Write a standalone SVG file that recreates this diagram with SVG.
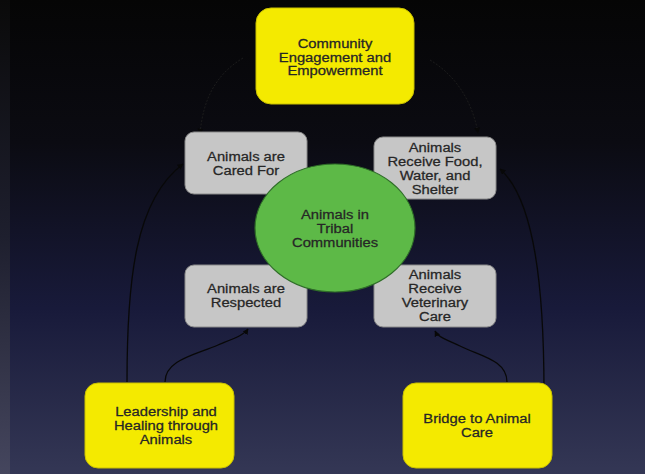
<svg xmlns="http://www.w3.org/2000/svg" width="645" height="474" viewBox="0 0 645 474">
<defs>
<linearGradient id="bg" x1="0" y1="0" x2="0" y2="1">
<stop offset="0" stop-color="#050505"/>
<stop offset="0.3" stop-color="#0b0b12"/>
<stop offset="0.65" stop-color="#181a3a"/>
<stop offset="1" stop-color="#343755"/>
</linearGradient>
<linearGradient id="strip" x1="0" y1="0" x2="0" y2="1">
<stop offset="0" stop-color="#0a0a0a"/>
<stop offset="0.5" stop-color="#1e1f2e"/>
<stop offset="1" stop-color="#45465e"/>
</linearGradient>
<marker id="ah" viewBox="0 0 10 10" refX="9" refY="5" markerWidth="6" markerHeight="6" orient="auto" markerUnits="userSpaceOnUse">
<path d="M0,0 L10,5 L0,10 z" fill="#080808"/>
</marker>
<style>
.y{fill:#f4ea00;stroke:#c9c000;stroke-width:1}
.g{fill:#c6c6c6;stroke:#8a8a8a;stroke-width:1}
.c{fill:#5db947;stroke:#2f6e28;stroke-width:1.2}
text{font-family:"Liberation Sans",Arial,sans-serif;font-size:12px;fill:#262626;text-anchor:middle;stroke:#262626;stroke-width:0.25}
.ln{fill:none;stroke:#080808;stroke-width:1.3;marker-end:url(#ah)}
.dl{fill:none;stroke:#1c1c1c;stroke-width:1;stroke-dasharray:2 1.5;marker-end:url(#ah)}
</style>
</defs>
<rect width="645" height="474" fill="url(#bg)"/>
<rect width="10" height="474" fill="url(#strip)"/>

<g id="connectors">
<path class="dl" d="M243,58 C215,75 203,100 200,134"/>
<path class="dl" d="M430,60 C455,75 472,100 478,133"/>
<path class="ln" d="M127,382 C127,280 135,200 183,164"/>
<path class="ln" d="M544,392 C544,290 535,200 500,169"/>
<path class="ln" d="M165,382 C165,360 195,355 218,345 C235,338 244,335 248,329"/>
<path class="ln" d="M507,382 C507,360 480,356 460,346 C445,339 438,337 435,331"/>
</g>

<g id="community">
<rect class="y" x="256" y="8" width="158" height="96" rx="15"/>
<text transform="translate(335,48) scale(1.23,1)">Community</text>
<text transform="translate(335,61.5) scale(1.23,1)">Engagement and</text>
<text transform="translate(335,75) scale(1.23,1)">Empowerment</text>
</g>

<g id="cared">
<rect class="g" x="185" y="132" width="122" height="62" rx="9"/>
<text transform="translate(246,161) scale(1.23,1)">Animals are</text>
<text transform="translate(246,175) scale(1.23,1)">Cared For</text>
</g>

<g id="food">
<rect class="g" x="374" y="137" width="122" height="62" rx="9"/>
<text transform="translate(435,152) scale(1.23,1)">Animals</text>
<text transform="translate(435,166) scale(1.23,1)">Receive Food,</text>
<text transform="translate(435,180) scale(1.23,1)">Water, and</text>
<text transform="translate(435,194) scale(1.23,1)">Shelter</text>
</g>

<g id="respected">
<rect class="g" x="185" y="265" width="122" height="62" rx="9"/>
<text transform="translate(246,293) scale(1.23,1)">Animals are</text>
<text transform="translate(246,307) scale(1.23,1)">Respected</text>
</g>

<g id="veterinary">
<rect class="g" x="374" y="265" width="122" height="62" rx="9"/>
<text transform="translate(435,279) scale(1.23,1)">Animals</text>
<text transform="translate(435,293) scale(1.23,1)">Receive</text>
<text transform="translate(435,307) scale(1.23,1)">Veterinary</text>
<text transform="translate(435,321) scale(1.23,1)">Care</text>
</g>

<g id="center">
<ellipse class="c" cx="335" cy="228" rx="80" ry="64"/>
<text transform="translate(335,219) scale(1.23,1)">Animals in</text>
<text transform="translate(335,233) scale(1.23,1)">Tribal</text>
<text transform="translate(335,247) scale(1.23,1)">Communities</text>
</g>

<g id="leadership">
<rect class="y" x="85" y="383" width="149" height="85" rx="13"/>
<text transform="translate(166,416) scale(1.23,1)">Leadership and</text>
<text transform="translate(166,430) scale(1.23,1)">Healing through</text>
<text transform="translate(166,444) scale(1.23,1)">Animals</text>
</g>

<g id="bridge">
<rect class="y" x="403" y="383" width="149" height="85" rx="13"/>
<text transform="translate(477,423) scale(1.23,1)">Bridge to Animal</text>
<text transform="translate(477,437) scale(1.23,1)">Care</text>
</g>
</svg>
